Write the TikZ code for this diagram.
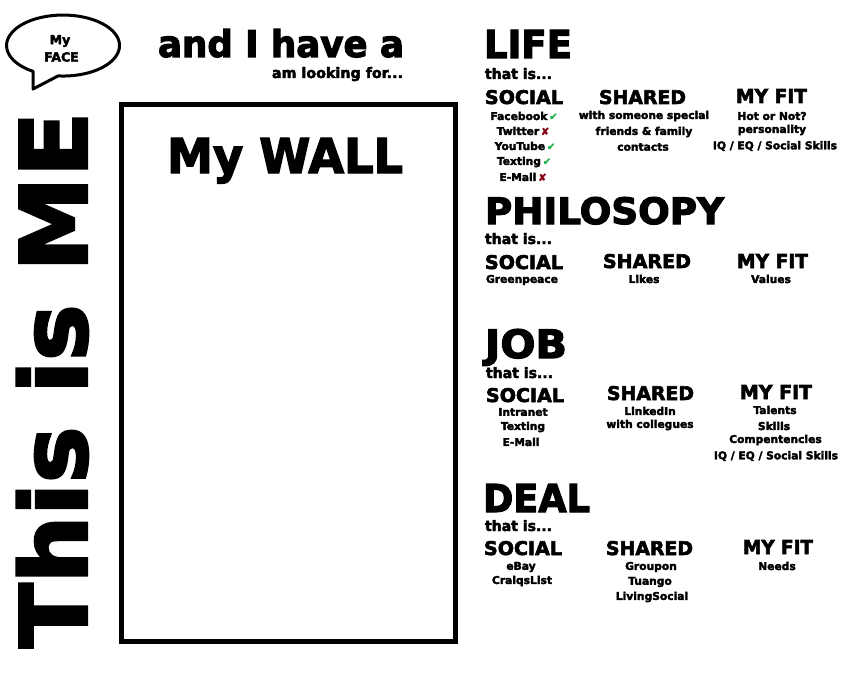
\documentclass[tikz,border=0pt]{standalone}
\usepackage{fontspec}
\usepackage{graphicx}
\setmainfont{DejaVu Sans Bold}[FakeBold=3]
\newfontfamily\symfont{DejaVu Sans}[FakeBold=2]
\definecolor{okgreen}{HTML}{22B14C}
\definecolor{nored}{HTML}{880015}
\newcommand\fitbox[3]{\resizebox{#1pt}{#2pt}{#3}}
\newcommand\mytick{\,{\symfont\fontsize{10}{10}\selectfont\color{okgreen}✔}}
\newcommand\mycross{\,{\symfont\fontsize{10}{10}\selectfont\color{nored}✘}}
\begin{document}
\begin{tikzpicture}[x=1pt,y=-1pt,
  every node/.style={inner sep=0pt, outer sep=0pt},
  big/.style={anchor=base west},
  item/.style={font=\fontsize{10.7}{12}\selectfont, anchor=center},
  facetxt/.style={font=\fontsize{12.5}{14}\selectfont, anchor=center}]
\useasboundingbox[fill=white] (0,0) rectangle (866,695);

% speech bubble
\draw[line width=3pt, line join=round] (33.1,71.4) arc[start angle=122, end angle=455, x radius=56.5, y radius=30.5] -- (33,89) -- cycle;
\node[facetxt] (my) at (60,41) {My};
\node[facetxt] (face) at (61.5,57) {FACE};

% top title
\node[big] (andihave) at (158,57) {\fitbox{246}{28}{and I have a}};
\node[big] (looking) at (272,78) {\fitbox{131}{11}{am looking for...}};

% This is ME
\node[anchor=south west, rotate=90] (thisisme) at (88,648) {\fitbox{536}{70}{This is ME}};

% wall
\draw[line width=5pt] (121.5,104.5) rectangle (455.5,641);
\node[big] (mywall) at (167,173) {\fitbox{236}{35}{My WALL}};

% LIFE
\node[big] (life) at (484,58) {\fitbox{88}{28}{LIFE}};
\node[big] (lifethat) at (485,79) {\fitbox{67}{11}{that is...}};
\node[big] (lifesoc) at (485,104) {\fitbox{78}{14}{SOCIAL}};
\node[big] (lifeshr) at (599,104) {\fitbox{87}{14}{SHARED}};
\node[big] (lifefit) at (736,103) {\fitbox{71}{14}{MY FIT}};
\node[item] (l1) at (524,116) {Facebook\mytick};
\node[item] (l2) at (523,131) {Twitter\mycross};
\node[item] (l3) at (525,146) {YouTube\mytick};
\node[item] (l4) at (524,162) {Texting\mytick};
\node[item] (l5) at (523,177) {E-Mail\mycross};
\node[item] (l6) at (644,116) {with someone special};
\node[item] (l7) at (644,132) {friends \& family};
\node[item] (l8) at (643,147) {contacts};
\node[item] (l9) at (772,116) {Hot or Not?};
\node[item] (l10) at (772,130) {personality};
\node[item] (l11) at (775,146) {IQ / EQ / Social Skills};

% PHILOSOPY
\node[big] (phil) at (485,224) {\fitbox{239}{27}{PHILOSOPY}};
\node[big] (philthat) at (485,244) {\fitbox{67}{11}{that is...}};
\node[big] (philsoc) at (485,269) {\fitbox{78}{14}{SOCIAL}};
\node[big] (philshr) at (603,268) {\fitbox{88}{14}{SHARED}};
\node[big] (philfit) at (737,268) {\fitbox{71}{14}{MY FIT}};
\node[item] (p1) at (522,280) {Greenpeace};
\node[item] (p2) at (644,279) {Likes};
\node[item] (p3) at (771,279) {Values};

% JOB
\node[big] (job) at (485,358) {\fitbox{82}{29}{JOB}};
\node[big] (jobthat) at (486,378) {\fitbox{67}{11}{that is...}};
\node[big] (jobsoc) at (486,402) {\fitbox{78}{14}{SOCIAL}};
\node[big] (jobshr) at (607,400) {\fitbox{87}{14}{SHARED}};
\node[big] (jobfit) at (740,399) {\fitbox{72}{14}{MY FIT}};
\node[item] (j1) at (523,412) {Intranet};
\node[item] (j2) at (523,427) {Texting};
\node[item] (j3) at (521,442) {E-Mail};
\node[item] (j4) at (650,411) {LinkedIn};
\node[item] (j5) at (650,425) {with collegues};
\node[item] (j6) at (775,410) {Talents};
\node[item] (j7) at (774,426) {Skills};
\node[item] (j8) at (775.5,440) {Compentencies};
\node[item] (j9) at (776,456) {IQ / EQ / Social Skills};

% DEAL
\node[big] (deal) at (483,512) {\fitbox{107}{28}{DEAL}};
\node[big] (dealthat) at (485,531) {\fitbox{67}{11}{that is...}};
\node[big] (dealsoc) at (484,555) {\fitbox{78}{14}{SOCIAL}};
\node[big] (dealshr) at (606,555) {\fitbox{87}{14}{SHARED}};
\node[big] (dealfit) at (743,554) {\fitbox{70}{14}{MY FIT}};
\node[item] (d1) at (521,567) {eBay};
\node[item] (d2) at (522,581) {CraiqsList};
\node[item] (d3) at (651,567) {Groupon};
\node[item] (d4) at (650,582) {Tuango};
\node[item] (d5) at (652,597) {LivingSocial};
\node[item] (d6) at (777,566) {Needs};
\end{tikzpicture}
\end{document}
